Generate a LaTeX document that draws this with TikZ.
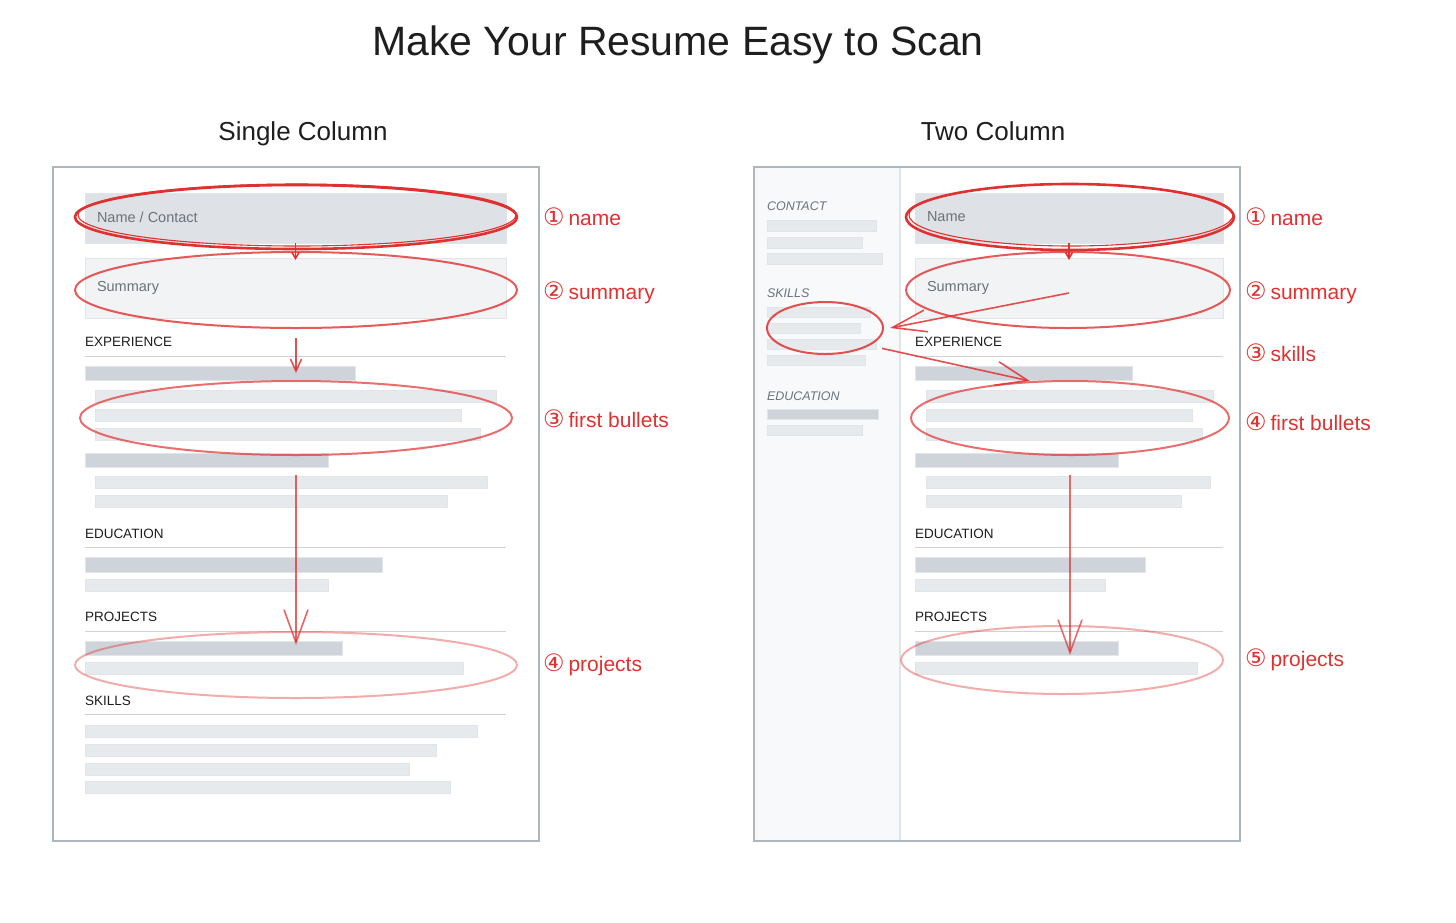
\documentclass[tikz,border=0pt]{standalone}
\usepackage{fontspec}
\setmainfont{Liberation Sans}
\newfontfamily\symfont{DejaVu Sans}
\usepackage{xcolor}
\definecolor{inkRed}     {HTML}{E03131}
\definecolor{inkText}    {HTML}{1E1E1E}
\definecolor{mutedtext}  {HTML}{6C727A}
\definecolor{pageEdge}   {HTML}{ADB5BD}
\definecolor{sideBack}   {HTML}{F7F9FA}
\definecolor{blockDark}  {HTML}{DEE2E6}
\definecolor{blockLight} {HTML}{F1F3F5}
\definecolor{blockEdge}  {HTML}{E1E4E8}
\definecolor{barDark}    {HTML}{CED4DA}
\definecolor{barLight}   {HTML}{E7EAED}
\definecolor{ruleGray}   {HTML}{CDD2D8}
\usetikzlibrary{arrows.meta, positioning, calc, shapes.geometric}
\newcommand{\circnum}[1]{{\symfont\fontsize{24}{24}\selectfont #1}\hspace{4pt}}

\begin{document}
\begin{tikzpicture}[
    x=1pt, y=-1pt,
    every node/.style={inner sep=0pt, outer sep=0pt},
    page/.style={draw=pageEdge, line width=1.5pt, fill=white, anchor=north west,
                 minimum width=486, minimum height=674},
    block/.style={draw=blockEdge, line width=0.8pt, anchor=north west,
                  minimum width=#1},
    bar/.style={draw=blockEdge, line width=0.6pt, fill=barLight, anchor=north west,
                minimum height=12},
    dbar/.style={bar, draw=barDark!60!white, fill=barDark, minimum height=14},
    boxtxt/.style={font=\fontsize{14.5}{16}\selectfont, text=mutedtext, anchor=west},
    hdr/.style={font=\fontsize{13.5}{15}\selectfont, text=inkText, anchor=west},
    side/.style={font=\fontsize{12.5}{14}\selectfont\itshape, text=mutedtext, anchor=west},
    ring/.style={draw=inkRed, ellipse, line width=2pt},
    note/.style={font=\fontsize{21}{23}\selectfont, text=inkRed, anchor=west},
    arr/.style 2 args={draw=inkRed, line width=1.6pt,
                       -{Straight Barb[length=#1pt, width=#2pt]}},
    rulex/.style={draw=ruleGray, line width=0.8pt}
]
\useasboundingbox (0,0) rectangle (1456,922);

% Titles
\node[font=\fontsize{41}{45}\selectfont, text=inkText, anchor=base] (title) at (678,55) {Make Your Resume Easy to Scan};
\node[font=\fontsize{26}{30}\selectfont, text=inkText, anchor=base] (colL) at (303,140) {Single Column};
\node[font=\fontsize{26}{30}\selectfont, text=inkText, anchor=base] (colR) at (993,140) {Two Column};

% ---- Single column page
\node[page] (pageL) at (53,167) {};
\node[block=421, fill=blockDark, minimum height=50] (nameL) at (85,193) {};
\node[boxtxt] (nameTxtL) at (97,217) {Name / Contact};
\node[block=421, fill=blockLight, minimum height=60] (sumL) at (85,258) {};
\node[boxtxt] (sumTxtL) at (97,288) {Summary};

\node[hdr] (expL) at (85,342) {EXPERIENCE};
\draw[rulex] (85,356) -- (506,356);
\node[dbar, minimum width=270] (expBarL) at (85,366) {};
\foreach \n/\y/\w in {a/390/401, b/409/366, c/428/385} {
    \node[bar, minimum width=\w] (bulL\n) at (95,\y) {};
}
\node[dbar, minimum width=243] (expBarL2) at (85,453) {};
\foreach \n/\y/\w in {d/476/392, e/495/352} {
    \node[bar, minimum width=\w] (bulL\n) at (95,\y) {};
}

\node[hdr] (eduL) at (85,534) {EDUCATION};
\draw[rulex] (85,547) -- (506,547);
\node[dbar, minimum width=297, minimum height=15] (eduBarL) at (85,557) {};
\node[bar, minimum width=243] (eduBarL2) at (85,579) {};

\node[hdr] (prjL) at (85,617) {PROJECTS};
\draw[rulex] (85,631) -- (506,631);
\node[dbar, minimum width=257] (prjBarL) at (85,641) {};
\node[bar, minimum width=378] (prjBarL2) at (85,662) {};

\node[hdr] (sklL) at (85,701) {SKILLS};
\draw[rulex] (85,714) -- (506,714);
\foreach \n/\y/\w in {a/725/392, b/744/351, c/763/324, d/781/365} {
    \node[bar, minimum width=\w] (sklBarL\n) at (85,\y) {};
}

% ---- Two column page
\node[page] (pageR) at (754,167) {};
\node[anchor=north west, fill=sideBack, minimum width=145, minimum height=672] (sideR) at (755,168) {};
\draw[rulex, draw=blockEdge, line width=1.2pt] (sideR.north east) -- (sideR.south east);

\node[side] (cntR) at (767,206) {CONTACT};
\foreach \n/\y/\w in {a/220/109, b/237/95, c/253/115} {
    \node[bar, minimum width=\w, minimum height=11] (cntBar\n) at (767,\y) {};
}
\node[side] (sklR) at (767,293) {SKILLS};
\foreach \n/\y/\w in {a/307/103, b/323/93, c/339/109, d/355/98} {
    \node[bar, minimum width=\w, minimum height=10] (sklBar\n) at (767,\y) {};
}
\node[side] (eduSideR) at (767,396) {EDUCATION};
\node[dbar, minimum width=111, minimum height=10] (eduSideBar) at (767,409) {};
\node[bar, minimum width=95, minimum height=10] (eduSideBar2) at (767,425) {};

\node[block=308, fill=blockDark, minimum height=50] (nameR) at (915,193) {};
\node[boxtxt] (nameTxtR) at (927,217) {Name};
\node[block=308, fill=blockLight, minimum height=60] (sumR) at (915,258) {};
\node[boxtxt] (sumTxtR) at (927,288) {Summary};

\node[hdr] (expR) at (915,342) {EXPERIENCE};
\draw[rulex] (915,356) -- (1223,356);
\node[dbar, minimum width=217] (expBarR) at (915,366) {};
\foreach \n/\y/\w in {a/390/287, b/409/266, c/428/276} {
    \node[bar, minimum width=\w] (bulR\n) at (926,\y) {};
}
\node[dbar, minimum width=203] (expBarR2) at (915,453) {};
\foreach \n/\y/\w in {d/476/284, e/495/255} {
    \node[bar, minimum width=\w] (bulR\n) at (926,\y) {};
}

\node[hdr] (eduR) at (915,534) {EDUCATION};
\draw[rulex] (915,547) -- (1223,547);
\node[dbar, minimum width=230, minimum height=15] (eduBarR) at (915,557) {};
\node[bar, minimum width=190] (eduBarR2) at (915,579) {};

\node[hdr] (prjR) at (915,617) {PROJECTS};
\draw[rulex] (915,631) -- (1223,631);
\node[dbar, minimum width=203] (prjBarR) at (915,641) {};
\node[bar, minimum width=282] (prjBarR2) at (915,662) {};

% ---- Red rings
\node[ring, line width=2.6pt, minimum width=442, minimum height=64] (nameEllL) at (296,217) {};
\draw[inkRed, line width=1.1pt] (297,215) ellipse [x radius=219, y radius=31];
\node[ring, draw opacity=.8, minimum width=442, minimum height=76] (sumEllL) at (296,290) {};
\node[ring, draw opacity=.7, minimum width=432, minimum height=74] (bulEllL) at (296,418) {};
\node[ring, draw opacity=.4, minimum width=442, minimum height=66] (prjEllL) at (296,665) {};

\node[ring, line width=2.6pt, minimum width=328, minimum height=66] (nameEllR) at (1070,217) {};
\draw[inkRed, line width=1.1pt] (1071,215) ellipse [x radius=162, y radius=31];
\node[ring, draw opacity=.8, minimum width=324, minimum height=76] (sumEllR) at (1068,290) {};
\node[ring, draw opacity=.85, minimum width=116, minimum height=52] (skEllR) at (825,328) {};
\node[ring, draw opacity=.7, minimum width=318, minimum height=74] (bulEllR) at (1070,418) {};
\node[ring, draw opacity=.4, minimum width=322, minimum height=68] (prjEllR) at (1062,660) {};

% ---- Reading order arrows
\draw[arr={6}{7}] (nameL.south) -- ([yshift=-2pt]sumL.north);
\draw[arr={12}{11}, draw opacity=.85] ([yshift=-10pt]sumEllL.south) -- (sumEllL.south |- expBarL.center);
\draw[arr={33}{24}, draw opacity=.75] ([yshift=-20pt]bulEllL.south) -- ([yshift=3pt]bulEllL.south |- prjBarL.center);

\draw[arr={6}{7}] (nameR.south) -- ([yshift=-2pt]sumR.north);
\draw[arr={34}{22}, draw opacity=.85] ([yshift=-5pt]sumR.center) -- ([xshift=7pt]skEllR.east);
\draw[arr={32}{24}, draw opacity=.85] ([shift={(16pt,-2pt)}]skEllR.south east) -- ([xshift=-40pt]bulEllR.north);
\draw[arr={33}{24}, draw opacity=.7] ([yshift=-20pt]bulEllR.south) -- ([yshift=-7pt]bulEllR.south |- prjBarR.center);

% ---- Notes
\node[note] (noteL1) at (543,217) {\circnum{①}name};
\node[note] (noteL2) at (543,293) {\circnum{②}summary};
\node[note] (noteL3) at (543,419) {\circnum{③}first bullets};
\node[note] (noteL4) at (543,665) {\circnum{④}projects};

\node[note] (noteR1) at (1245,217) {\circnum{①}name};
\node[note] (noteR2) at (1245,293) {\circnum{②}summary};
\node[note] (noteR3) at (1245,353) {\circnum{③}skills};
\node[note] (noteR4) at (1245,422) {\circnum{④}first bullets};
\node[note] (noteR5) at (1245,660) {\circnum{⑤}projects};
\end{tikzpicture}
\end{document}
